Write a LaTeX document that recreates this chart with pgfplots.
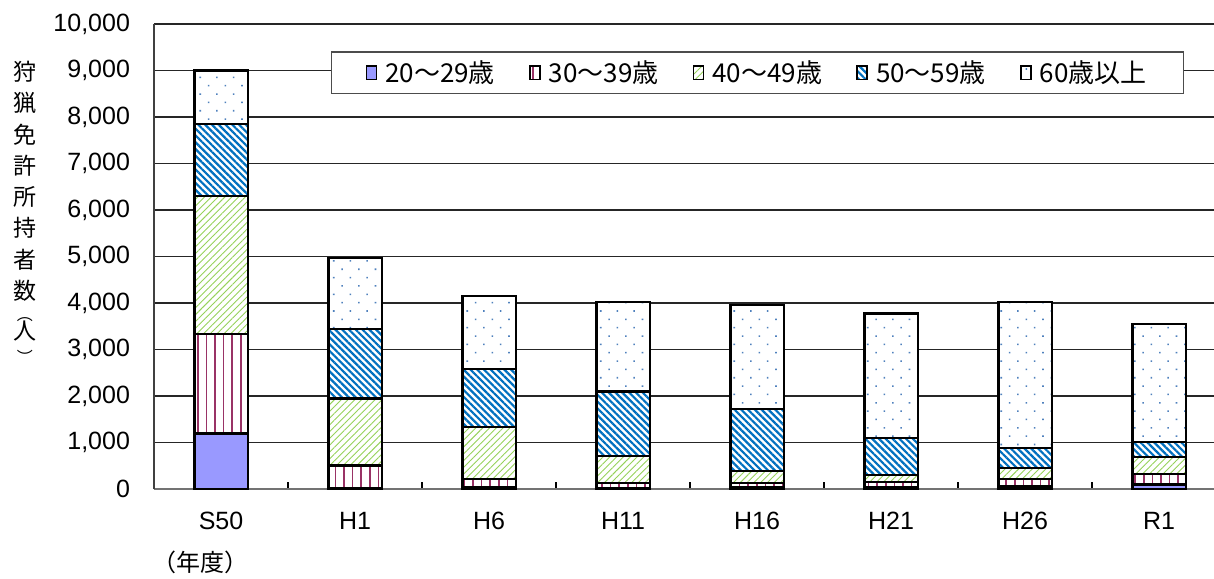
\documentclass[border=0pt]{standalone}
\usepackage{fontspec}
\setmainfont{Liberation Sans}
\newfontfamily\cjk{Noto Sans CJK JP}
\usepackage{pgfplots}
\pgfplotsset{compat=1.18}
\usetikzlibrary{patterns.meta}
\definecolor{cA}{RGB}{153,153,255}
\definecolor{cB}{RGB}{153,51,102}
\definecolor{cC}{RGB}{150,210,90}
\definecolor{cD}{RGB}{0,112,192}
\definecolor{cE}{RGB}{79,129,189}
\pgfplotsset{
  mylegend/.style={legend image code/.code={\draw[##1, line width=0.8pt] (0pt,-3.4pt) rectangle (5pt,3.4pt);}},
}
\newcommand\vc[1]{\hbox to 13pt{\hss#1\hss}}
\begin{document}
\begin{tikzpicture}
\useasboundingbox (-77pt,-44.5pt) rectangle (530pt,244.5pt);
\begin{axis}[
  scale only axis, width=530pt, height=232.5pt,
  at={(0pt,0pt)}, anchor=south west,
  ybar stacked, bar width=0.4,
  xmin=-0.5, xmax=7.41, ymin=0, ymax=10000,
  xtick={0,...,7}, xticklabels={S50,H1,H6,H11,H16,H21,H26,R1},
  minor xtick={0.5,1.5,...,6.5},
  ytick={0,1000,...,10000},
  scaled y ticks=false,
  /pgf/number format/1000 sep={,},
  /pgf/number format/assume math mode=true,
  axis x line*=bottom, axis y line*=left,
  x axis line style={draw=black!55, line width=1pt, -},
  y axis line style={draw=black!75, line width=0.9pt, -},
  major tick length=0pt, minor tick length=3.5pt, tick align=inside,
  minor tick style={black, line width=0.6pt},
  ymajorgrids, grid style={black!85, line width=0.55pt},
  tick label style={font=\fontsize{12.5}{14}\selectfont},
  yticklabel style={xshift=-8.5pt},
  xticklabel style={yshift=-8pt},
  legend columns=5,
  legend style={at={(rel axis cs:0.167,0.941)}, anchor=north west,
    draw=black!70, line width=0.6pt, fill=white, inner xsep=17pt, inner ysep=2.2pt,
    font=\cjk\fontsize{13}{15}\selectfont,
    /tikz/every odd column/.append style={column sep=2pt},
    /tikz/every even column/.append style={column sep=0pt}},
  legend cell align=left,
]
\addplot+[mylegend, draw=black, line width=1.3pt, fill=cA] coordinates
 {(0,1200) (1,20) (2,30) (3,20) (4,30) (5,30) (6,60) (7,100)};
\addlegendentry{\makebox[70pt][l]{20～29歳}}
\addplot+[mylegend, draw=black, line width=1.3pt, fill=white,
  postaction={pattern={Lines[angle=90,distance=4.3pt,line width=0.8pt]}, pattern color=cB}] coordinates
 {(0,2130) (1,480) (2,185) (3,110) (4,100) (5,120) (6,155) (7,220)};
\addlegendentry{\makebox[70pt][l]{30～39歳}}
\addplot+[mylegend, draw=black, line width=1.3pt, fill=white,
  postaction={pattern={Lines[angle=45,distance=2.4pt,line width=0.45pt]}, pattern color=cC}] coordinates
 {(0,2970) (1,1440) (2,1115) (3,580) (4,260) (5,150) (6,235) (7,370)};
\addlegendentry{\makebox[70pt][l]{40～49歳}}
\addplot+[mylegend, draw=black, line width=1.3pt, fill=white,
  postaction={pattern={Lines[angle=-45,distance=2.4pt,line width=1.1pt]}, pattern color=cD}] coordinates
 {(0,1550) (1,1500) (2,1250) (3,1390) (4,1330) (5,800) (6,430) (7,320)};
\addlegendentry{\makebox[70pt][l]{50～59歳}}
\addplot+[mylegend, draw=black, line width=1.3pt, fill=white,
  postaction={pattern={Dots[angle=45,distance=5.9pt,radius=0.55pt]}, pattern color=cE}] coordinates
 {(0,1150) (1,1530) (2,1570) (3,1920) (4,2240) (5,2680) (6,3140) (7,2540)};
\addlegendentry{60歳以上\hspace*{-0.5pt}}
\end{axis}
\node[font=\cjk\fontsize{12}{13}\selectfont] at (23pt,-36.5pt) {（年度）};
\node[font=\cjk\fontsize{11.5}{11.5}\selectfont, inner sep=0pt, anchor=north] at (-64.5pt,214pt)
 {\vbox{\offinterlineskip
  \vc{狩}\kern5pt\vc{猟}\kern5pt\vc{免}\kern5pt\vc{許}\kern5pt
  \vc{所}\kern5pt\vc{持}\kern5pt\vc{者}\kern5pt\vc{数}\kern8pt
  \vc{\fontsize{8}{8}\selectfont ︵}\kern0pt\vc{人}\kern4.5pt
  \vc{\fontsize{8}{8}\selectfont ︶}}};
\end{tikzpicture}
\end{document}
